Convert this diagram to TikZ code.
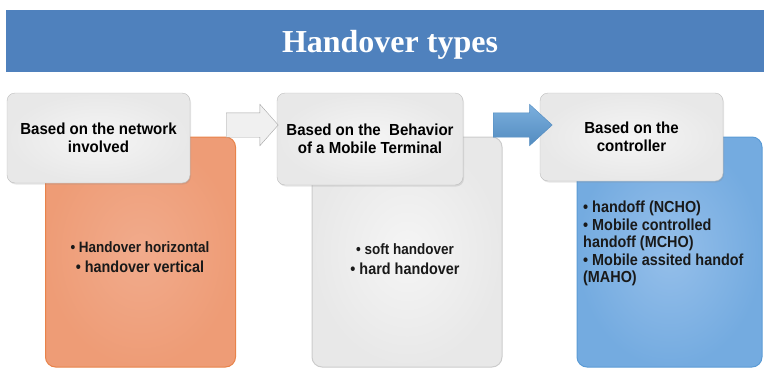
\documentclass[tikz,border=0pt]{standalone}
\usepackage{fontspec}
\setmainfont{Liberation Serif}
\newfontfamily\boxfont[FakeStretch=0.94]{Liberation Sans}
\newfontfamily\itemfont[FakeStretch=0.9]{Liberation Sans}
\usetikzlibrary{shapes.arrows,shadows}
\definecolor{hobanner}{HTML}{4F81BD}
\definecolor{hoorange}{HTML}{E8834A}
\definecolor{hoorangeout}{HTML}{EE9C76}
\definecolor{hoorangein}{HTML}{F1AB8C}
\definecolor{hoblue}{HTML}{5B9BD5}
\definecolor{hoblueout}{HTML}{74ABE0}
\definecolor{hobluein}{HTML}{95BFEA}
\definecolor{hogray}{HTML}{E8E8E8}
\definecolor{hograyin}{HTML}{F5F5F5}
\definecolor{hoedge}{HTML}{BDBDBD}

\begin{document}
\begin{tikzpicture}[x=1pt,y=-1pt,
      backbox/.style={rounded corners=10pt,minimum height=230pt,inner sep=0pt,line width=1pt},
      headbox/.style={draw=hoedge,rounded corners=8pt,inner color=hograyin,outer color=hogray,
        minimum width=183pt,align=center,inner sep=0pt,
        font=\boxfont\bfseries\fontsize{16}{18}\selectfont,
        drop shadow={shadow xshift=1pt,shadow yshift=-1.5pt,opacity=0.2}},
      items/.style={inner sep=0pt,font=\itemfont\bfseries\fontsize{16}{20}\selectfont,text=black!90},
      blockarr/.style={single arrow,inner xsep=0pt,inner ysep=12pt,minimum width=41pt,single arrow head extend=8.5pt}]
    \useasboundingbox (0,0) rectangle (764,370);
    % banner
    \node[fill=hobanner,minimum width=758pt,minimum height=62pt,inner sep=0pt] (banner) at (385,41) {};
    \node[anchor=base,text=white,font=\bfseries\fontsize{32}{36}\selectfont] (title) at (390,52) {Handover types};
    % back boxes
    \node[backbox,draw=hoorange,inner color=hoorangein,outer color=hoorangeout,minimum width=190pt] (net) at (140.5,252) {};
    \node[backbox,draw=black!20,inner color=hograyin,outer color=hogray,minimum width=190pt] (beh) at (407,252) {};
    \node[backbox,draw=hoblue,inner color=hobluein,outer color=hoblueout,minimum width=185pt] (ctl) at (669.5,252) {};
    % header boxes
    \node[headbox,minimum height=90pt] (nethead) at (98.5,138) {Based on the network\\involved};
    \node[headbox,minimum width=186pt,minimum height=92pt] (behhead) at (370,139) {Based on the\ \ Behavior\\of a Mobile Terminal};
    \node[headbox,minimum height=88pt] (ctlhead) at (631.5,137) {Based on the\\controller};
    % items
    \node[items,align=center] (netitems) at (140,257) {\fontsize{15}{20}\selectfont • Handover horizontal\\• handover vertical};
    \node[items,align=center] (behitems) at (405,259) {\fontsize{15}{20}\selectfont • soft handover\\• hard handover};
    \node[items,align=left,anchor=north west,font=\itemfont\bfseries\fontsize{16}{17.5}\selectfont] (ctlitems) at (583,201)
      {• handoff (NCHO)\\• Mobile controlled\\handoff (MCHO)\\• Mobile assited handof\\(MAHO)};
    % arrows
    \node[blockarr,draw=black!35,fill=black!6,minimum height=52pt,single arrow tip angle=97,anchor=west] (arr1) at (226,125) {};
    \node[blockarr,draw=hoblue!90!black,top color=hoblue!80!white,bottom color=hoblue!90!black,minimum height=59pt,single arrow tip angle=85,anchor=west] (arr2) at (493,125) {};
  \end{tikzpicture}
\end{document}
